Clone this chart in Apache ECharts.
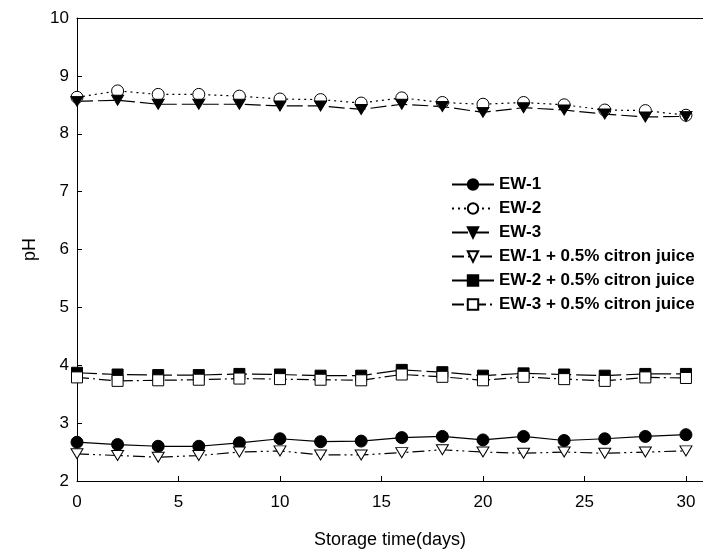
<!DOCTYPE html>
<html><head><meta charset="utf-8">
<script src="https://cdn.jsdelivr.net/npm/echarts@6/dist/echarts.min.js"></script>
<style>html,body{margin:0;padding:0;background:#fff}#c{width:703px;height:557px}</style>
</head><body><div id="c"></div>
<script>
const days = [0,2,4,6,8,10,12,14,16,18,20,22,24,26,28,30];
const xTicks = [0,5,10,15,20,25,30];
const seriesNames = ['EW-1','EW-2','EW-3','EW-1 + 0.5% citron juice','EW-2 + 0.5% citron juice','EW-3 + 0.5% citron juice'];
const ew1  = [2.67,2.63,2.60,2.60,2.66,2.73,2.68,2.69,2.75,2.77,2.71,2.77,2.70,2.73,2.77,2.80];
const ew2  = [8.63,8.74,8.68,8.68,8.65,8.60,8.59,8.53,8.62,8.54,8.51,8.54,8.50,8.41,8.40,8.32];
const ew3  = [8.56,8.58,8.51,8.51,8.51,8.48,8.48,8.42,8.51,8.47,8.37,8.45,8.41,8.34,8.29,8.30];
const ew1c = [2.47,2.44,2.41,2.44,2.50,2.52,2.45,2.45,2.49,2.54,2.50,2.48,2.50,2.48,2.50,2.52];
const ew2c = [3.87,3.84,3.83,3.83,3.85,3.84,3.82,3.82,3.92,3.88,3.82,3.86,3.84,3.82,3.85,3.85];
const ew3c = [3.79,3.73,3.74,3.75,3.77,3.76,3.75,3.74,3.84,3.80,3.74,3.80,3.76,3.73,3.79,3.78];

const pair = arr => days.map((d,i)=>[d,arr[i]]);
const DOWN = 'path://M0,0 L12,0 L6,10 Z';
const filled = {color:'#000', borderColor:'#000', borderWidth:1};
const open = {color:'#fff', borderColor:'#000', borderWidth:1};
function mk(name, data, symbol, size, style, dash){
  return {name, type:'line', data:pair(data), symbol, symbolSize:size,
    itemStyle:style, lineStyle:{color:'#000', width:1.2, type:dash},
    showAllSymbol:true, animation:false, z:3};
}
const chart = echarts.init(document.getElementById('c'));
chart.setOption({
  animation:false,
  textStyle:{fontFamily:'Liberation Sans, Arial, sans-serif', color:'#000'},
  grid:{left:77, right:0, top:18, bottom:76},
  legend:{orient:'vertical', left:446, top:171, itemWidth:42, itemHeight:13, itemGap:7,
    data:seriesNames,
    textStyle:{fontSize:17, fontWeight:'bold', color:'#000', fontFamily:'Liberation Sans, Arial, sans-serif'}},
  xAxis:[{type:'value', min:0, max:30.84, position:'bottom',
    name:'Storage time(days)', nameLocation:'middle', nameGap:50,
    nameTextStyle:{fontSize:18, color:'#000'},
    axisLine:{show:true, lineStyle:{color:'#000', width:1}},
    axisTick:{inside:true, length:5, customValues:xTicks, lineStyle:{color:'#000'}},
    axisLabel:{customValues:xTicks, fontSize:17, color:'#000', margin:13},
    splitLine:{show:false}},
   {type:'value', min:0, max:30.84, position:'top',
    axisLine:{show:true, lineStyle:{color:'#000', width:1}},
    axisTick:{show:false}, axisLabel:{show:false}, splitLine:{show:false}}],
  yAxis:{type:'value', min:2, max:10, interval:1,
    name:'pH', nameLocation:'middle', nameGap:36,
    nameTextStyle:{fontSize:18, color:'#000'},
    axisLine:{show:true, lineStyle:{color:'#000', width:1}},
    axisTick:{inside:true, length:5, lineStyle:{color:'#000'}},
    axisLabel:{fontSize:17, color:'#000', margin:8},
    splitLine:{show:false}},
  series:[
    mk(seriesNames[0], ew1, 'circle', 12, filled, 'solid'),
    mk(seriesNames[1], ew2, 'circle', 12, open, [2,4]),
    mk(seriesNames[2], ew3, DOWN, [12,10], filled, [16,5]),
    mk(seriesNames[3], ew1c, DOWN, [12,10], open, [12,4,2,4,2,4]),
    mk(seriesNames[4], ew2c, 'rect', 11, filled, [20,5]),
    mk(seriesNames[5], ew3c, 'rect', 11, open, [12,4,2,4])
  ]
});
</script></body></html>
